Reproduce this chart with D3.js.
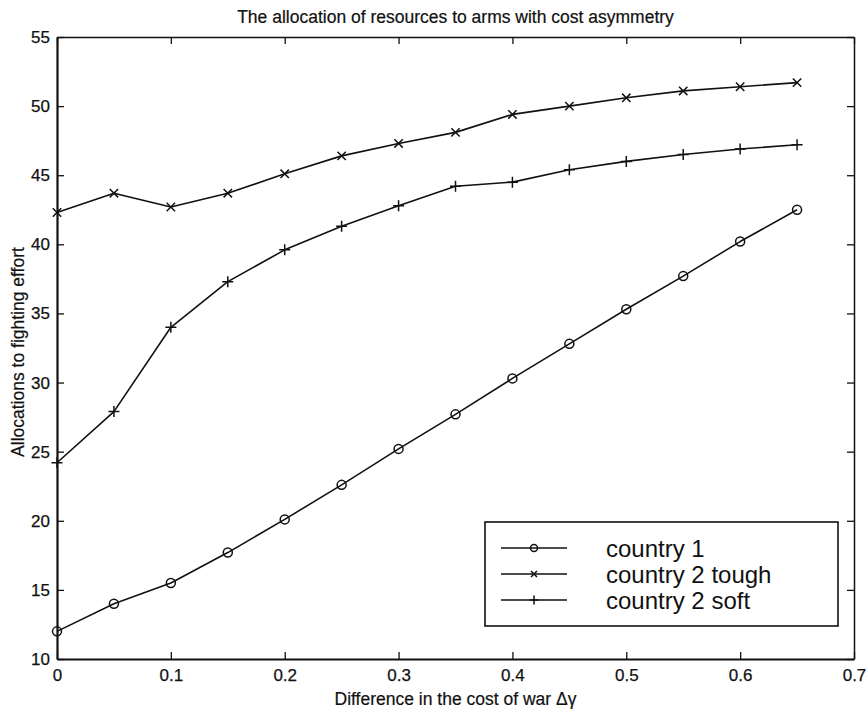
<!DOCTYPE html>
<html>
<head>
<meta charset="utf-8">
<script src="https://cdn.jsdelivr.net/npm/d3@7"></script>
<style>
  html, body { margin: 0; padding: 0; background: #ffffff; }
  svg { display: block; font-family: "Liberation Sans", Arial, Helvetica, sans-serif; }
</style>
</head>
<body>
<svg id="chart" width="868" height="709"></svg>
<script>
// Cost difference between the two countries
const costDiff = [0, 0.05, 0.1, 0.15, 0.2, 0.25, 0.3, 0.35, 0.4, 0.45, 0.5, 0.55, 0.6, 0.65];

// Allocations to fighting effort for each player
const country1 = [12.0, 14.0, 15.5, 17.7, 20.1, 22.6, 25.2, 27.7, 30.3, 32.8, 35.3, 37.7, 40.2, 42.5];
const country2Tough = [42.3, 43.7, 42.7, 43.7, 45.1, 46.4, 47.3, 48.1, 49.4, 50.0, 50.6, 51.1, 51.4, 51.7];
const country2Soft = [24.2, 27.9, 34.0, 37.3, 39.6, 41.3, 42.8, 44.2, 44.5, 45.4, 46.0, 46.5, 46.9, 47.2];

const seriesNames = ["country 1", "country 2 tough", "country 2 soft"];
const markerKinds = ["circle", "cross", "plus"];

const xTicks = [0, 0.1, 0.2, 0.3, 0.4, 0.5, 0.6, 0.7];
const yTicks = [10, 15, 20, 25, 30, 35, 40, 45, 50, 55];

const titleText = "The allocation of resources to arms with cost asymmetry";
const xLabelText = "Difference in the cost of war \u0394\u03b3";
const yLabelText = "Allocations to fighting effort";

const svg = d3.select("#chart");
const ink = "#111";

const plot = { left: 57, right: 854, top: 37, bottom: 659 };

const x = d3.scaleLinear().domain([0, 0.7]).range([plot.left, plot.right]);
const y = d3.scaleLinear().domain([10, 55]).range([plot.bottom, plot.top]);

const tickLen = 7;

// Bottom axis with inward ticks
const gBottom = svg.append("g")
  .attr("transform", `translate(0,${plot.bottom})`)
  .call(d3.axisBottom(x).tickValues(xTicks).tickSizeInner(-tickLen).tickSizeOuter(0)
    .tickPadding(10).tickFormat(d => d === 0 ? "0" : d3.format(".1f")(d)));

// Top axis, ticks only
const gTop = svg.append("g")
  .attr("transform", `translate(0,${plot.top})`)
  .call(d3.axisTop(x).tickValues(xTicks).tickSizeInner(-tickLen).tickSizeOuter(0).tickFormat(""));

// Left axis with inward ticks
const gLeft = svg.append("g")
  .attr("transform", `translate(${plot.left},0)`)
  .call(d3.axisLeft(y).tickValues(yTicks).tickSizeInner(-tickLen).tickSizeOuter(0)
    .tickPadding(7).tickFormat(d3.format("d")));

// Right axis, ticks only
const gRight = svg.append("g")
  .attr("transform", `translate(${plot.right},0)`)
  .call(d3.axisRight(y).tickValues(yTicks).tickSizeInner(-tickLen).tickSizeOuter(0).tickFormat(""));

[gBottom, gTop, gLeft, gRight].forEach(g => {
  g.select(".domain").attr("stroke", ink);
  g.selectAll(".tick line").attr("stroke", ink).attr("stroke-width", 1.3);
  g.selectAll(".tick text").attr("fill", ink).attr("font-size", 17)
    .attr("stroke", ink).attr("stroke-width", 0.25)
    .attr("font-family", "\"Liberation Sans\", Arial, sans-serif");
});
gLeft.select(".domain").attr("stroke-width", 2.2);
gBottom.select(".domain").attr("stroke-width", 2.2);
gTop.select(".domain").attr("stroke-width", 1.5);
gRight.select(".domain").attr("stroke-width", 1.5);

// Title and axis labels
svg.append("text")
  .attr("x", (plot.left + plot.right) / 2).attr("y", 23)
  .attr("text-anchor", "middle").attr("font-size", 17.5).attr("fill", ink)
  .attr("stroke", ink).attr("stroke-width", 0.2)
  .text(titleText);

svg.append("text")
  .attr("x", (plot.left + plot.right) / 2).attr("y", 705)
  .attr("text-anchor", "middle").attr("font-size", 17.5).attr("fill", ink)
  .attr("stroke", ink).attr("stroke-width", 0.2)
  .text(xLabelText);

svg.append("text")
  .attr("transform", `translate(24,${(plot.top + plot.bottom) / 2 + 4}) rotate(-90)`)
  .attr("text-anchor", "middle").attr("font-size", 17.5).attr("fill", ink)
  .attr("stroke", ink).attr("stroke-width", 0.2)
  .text(yLabelText);

// Marker drawing
function drawMarker(g, kind, cx, cy, s) {
  if (kind === "circle") {
    g.append("circle").attr("cx", cx).attr("cy", cy).attr("r", s)
      .attr("fill", "none").attr("stroke", ink).attr("stroke-width", 1.5);
  } else if (kind === "cross") {
    const p = d3.path();
    p.moveTo(cx - s, cy - s); p.lineTo(cx + s, cy + s);
    p.moveTo(cx - s, cy + s); p.lineTo(cx + s, cy - s);
    g.append("path").attr("d", p.toString()).attr("fill", "none")
      .attr("stroke", ink).attr("stroke-width", 1.5);
  } else {
    const p = d3.path();
    p.moveTo(cx - s, cy); p.lineTo(cx + s, cy);
    p.moveTo(cx, cy - s); p.lineTo(cx, cy + s);
    g.append("path").attr("d", p.toString()).attr("fill", "none")
      .attr("stroke", ink).attr("stroke-width", 1.5);
  }
}

const markerSize = { circle: 4.5, cross: 4.2, plus: 5.5 };

const line = d3.line().x(d => x(d[0])).y(d => y(d[1]));
const allSeries = [country1, country2Tough, country2Soft];

allSeries.forEach((vals, i) => {
  const pts = costDiff.map((c, j) => [c, vals[j]]);
  const g = svg.append("g");
  g.append("path").attr("d", line(pts)).attr("fill", "none")
    .attr("stroke", ink).attr("stroke-width", 1.6).attr("stroke-linejoin", "round");
  pts.forEach(p => drawMarker(g, markerKinds[i], x(p[0]), y(p[1]), markerSize[markerKinds[i]]));
});

// Legend
const legend = { x0: 485, y0: 522, x1: 838, y1: 626 };
svg.append("rect")
  .attr("x", legend.x0).attr("y", legend.y0)
  .attr("width", legend.x1 - legend.x0).attr("height", legend.y1 - legend.y0)
  .attr("fill", "#fff").attr("stroke", ink).attr("stroke-width", 1.6);

const legendRows = [548, 574, 600];
const legendMarkerSize = { circle: 3.5, cross: 3, plus: 4.5 };
seriesNames.forEach((name, i) => {
  const ly = legendRows[i];
  const g = svg.append("g");
  g.append("line").attr("x1", 501).attr("x2", 567).attr("y1", ly).attr("y2", ly)
    .attr("stroke", ink).attr("stroke-width", 1.3);
  drawMarker(g, markerKinds[i], 534, ly, legendMarkerSize[markerKinds[i]]);
  g.append("text").attr("x", 606).attr("y", ly + 8.6)
    .attr("font-size", 24).attr("fill", ink).text(name);
});
</script>
</body>
</html>
